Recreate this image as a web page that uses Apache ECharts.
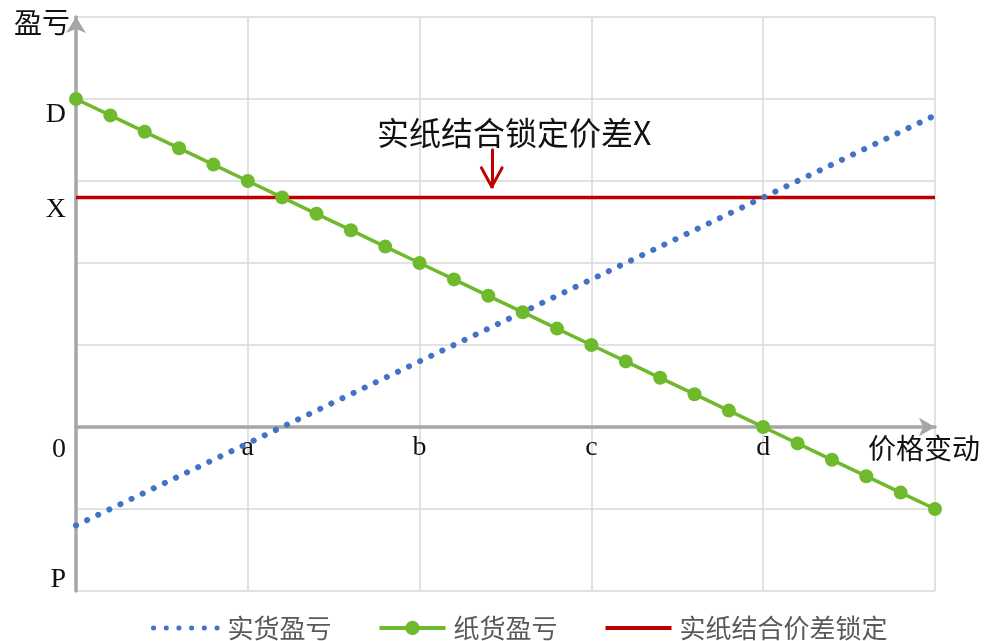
<!DOCTYPE html>
<html>
<head>
<meta charset="utf-8">
<script src="https://cdn.jsdelivr.net/npm/echarts@6/dist/echarts.min.js"></script>
<style>
  html, body { margin: 0; padding: 0; background: #fff; }
  #chart { width: 986px; height: 641px; }
</style>
</head>
<body>
<div id="chart"></div>
<script>
// Price change along the x axis (units of the a/b/c/d grid)
const priceSteps = [0, 0.2, 0.4, 0.6, 0.8, 1, 1.2, 1.4, 1.6, 1.8, 2, 2.2, 2.4, 2.6, 2.8, 3, 3.2, 3.4, 3.6, 3.8, 4, 4.2, 4.4, 4.6, 4.8, 5];
// 纸货盈亏 at each price step
const paperPnL = [4, 3.8, 3.6, 3.4, 3.2, 3, 2.8, 2.6, 2.4, 2.2, 2, 1.8, 1.6, 1.4, 1.2, 1, 0.8, 0.6, 0.4, 0.2, 0, -0.2, -0.4, -0.6, -0.8, -1];
// 实货盈亏: straight line, end points
const spotPrice = [0, 5];
const spotPnL = [-1.2, 3.8];
// 实纸结合价差锁定: flat level X
const lockPrice = [0, 5];
const lockPnL = [2.8, 2.8];

// Axis tick labels
const xTickValues = [1, 2, 3, 4];
const xTickText = ['a', 'b', 'c', 'd'];
const yTickValues = [4, 2.8, 0, -2];
const yTickText = ['D', 'X', '0', 'P'];
const yTickStyle = ['dLab', 'xLab', 'zLab', 'pLab'];

// Callout above the lock line
const noteText = '实纸结合锁定价差X';
const notePos = [2.55, 3.59];
const arrowX = 2.42;
const arrowTop = 3.38;
const arrowTip = 2.93;
const arrowArm = 0.06;
const arrowArmY = 3.16;

const zip = (xs, ys) => xs.map((x, i) => [x, ys[i]]);

const serif = '"Liberation Serif", "Times New Roman", serif';
const cjk = '"Noto Sans CJK SC", "Noto Sans", sans-serif';
const axisGrey = '#a6a6a6';
const red = '#c00000';
const blue = '#4472c4';
const green = '#6fb92c';
const spotDash = [0.1, 12.2];
const hiddenMarker = { color: 'rgba(0,0,0,0)', opacity: 0, borderWidth: 0 };

const chart = echarts.init(document.getElementById('chart'));
chart.setOption({
  animation: false,
  backgroundColor: '#fff',
  grid: { left: 76, right: 51, top: 17, bottom: 50, containLabel: false },
  legend: {
    left: 146,
    top: 610,
    itemWidth: 66,
    itemHeight: 18,
    itemGap: 46,
    textStyle: { fontFamily: cjk, fontSize: 26, color: '#595959', padding: [0, 0, 0, 3] },
    data: [
      { name: '实货盈亏', itemStyle: hiddenMarker, lineStyle: { width: 5, type: [0.1, 12.6], cap: 'round', opacity: 1 } },
      { name: '纸货盈亏', lineStyle: { width: 4 } },
      { name: '实纸结合价差锁定', itemStyle: hiddenMarker, lineStyle: { width: 4, opacity: 1 } }
    ]
  },
  xAxis: {
    type: 'value',
    min: 0, max: 5, interval: 1,
    name: '价格变动',
    nameLocation: 'end',
    nameGap: 45,
    nameTextStyle: { fontFamily: cjk, fontSize: 28, color: '#111', align: 'right', verticalAlign: 'top', padding: [7, 0, 0, 0] },
    offset: -164,
    axisLine: {
      onZero: false,
      lineStyle: { color: axisGrey, width: 3.5 },
      symbol: ['none', 'arrow'],
      symbolSize: [14, 16],
      symbolOffset: [0, 0]
    },
    axisTick: { show: false },
    axisLabel: {
      customValues: xTickValues,
      formatter: v => xTickText[xTickValues.indexOf(v)] || '',
      fontFamily: serif, fontSize: 28, color: '#111', margin: 7
    },
    splitLine: { show: true, lineStyle: { color: '#d9d9d9', width: 1.5 } }
  },
  yAxis: {
    type: 'value',
    min: -2, max: 5, interval: 1,
    name: '盈亏',
    nameLocation: 'end',
    nameGap: -5,
    nameTextStyle: { fontFamily: cjk, fontSize: 28, color: '#111', align: 'right', verticalAlign: 'middle', padding: [0, 6, 0, 0] },
    axisLine: {
      show: true,
      onZero: false,
      lineStyle: { color: axisGrey, width: 3.5 },
      symbol: ['none', 'arrow'],
      symbolSize: [15, 16],
      symbolOffset: [0, 0]
    },
    axisTick: { show: false },
    axisLabel: {
      customValues: yTickValues,
      formatter: v => {
        const i = yTickValues.indexOf(v);
        return i < 0 ? '' : '{' + yTickStyle[i] + '|' + yTickText[i] + '}';
      },
      margin: 10,
      rich: {
        dLab: { fontFamily: serif, fontSize: 28, color: '#111', padding: [31, 0, 0, 0] },
        xLab: { fontFamily: serif, fontSize: 28, color: '#111', padding: [24, 0, 0, 0] },
        zLab: { fontFamily: serif, fontSize: 28, color: '#111', padding: [46, 0, 0, 0] },
        pLab: { fontFamily: serif, fontSize: 28, color: '#111', padding: [0, 0, 22, 0] }
      }
    },
    splitLine: { show: true, lineStyle: { color: '#d9d9d9', width: 1.5 } }
  },
  series: [
    {
      name: '实货盈亏',
      type: 'line',
      data: zip(spotPrice, spotPnL),
      showSymbol: false,
      symbol: 'none',
      color: blue,
      lineStyle: { color: blue, width: 6, type: spotDash, cap: 'round' },
      z: 3
    },
    {
      name: '纸货盈亏',
      type: 'line',
      data: zip(priceSteps, paperPnL),
      symbol: 'circle',
      symbolSize: 14,
      color: green,
      itemStyle: { color: green },
      lineStyle: { color: green, width: 3.5 },
      z: 4
    },
    {
      name: '实纸结合价差锁定',
      type: 'line',
      data: zip(lockPrice, lockPnL),
      showSymbol: false,
      symbol: 'none',
      color: red,
      lineStyle: { color: red, width: 3.5 },
      z: 2,
      markLine: {
        silent: true,
        symbol: 'none',
        label: { show: false },
        lineStyle: { color: red, width: 3, type: 'solid', cap: 'round' },
        data: [
          [{ coord: [arrowX, arrowTop] }, { coord: [arrowX, arrowTip] }],
          [{ coord: [arrowX - arrowArm, arrowArmY] }, { coord: [arrowX, arrowTip] }],
          [{ coord: [arrowX + arrowArm, arrowArmY] }, { coord: [arrowX, arrowTip] }]
        ]
      },
      markPoint: {
        silent: true,
        symbol: 'circle',
        symbolSize: 0,
        label: { show: true, position: 'inside', formatter: noteText, fontFamily: cjk, fontSize: 32, color: '#111' },
        data: [{ coord: notePos }]
      }
    }
  ]
});
</script>
</body>
</html>
